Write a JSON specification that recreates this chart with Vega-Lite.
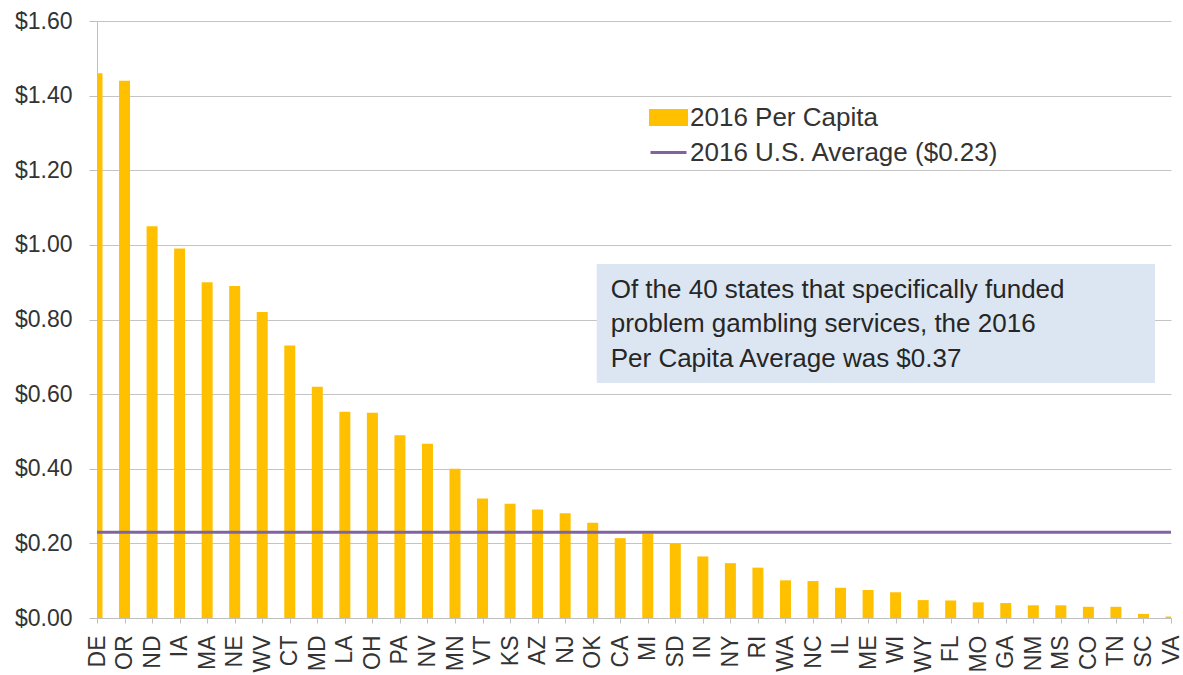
{
  "$schema": "https://vega.github.io/schema/vega-lite/v6.json",
  "width": 1074,
  "height": 597,
  "autosize": {"type": "none"},
  "padding": {"left": 97, "top": 21, "right": 12, "bottom": 57},
  "background": "white",
  "config": {
    "view": {"stroke": null},
    "font": "Liberation Sans",
    "axis": {"labelFont": "Liberation Sans", "labelColor": "#333333"}
  },
  "datasets": {
    "states": [
      {"state": "DE", "value": 1.46},
      {"state": "OR", "value": 1.44},
      {"state": "ND", "value": 1.05},
      {"state": "IA", "value": 0.99},
      {"state": "MA", "value": 0.90},
      {"state": "NE", "value": 0.89},
      {"state": "WV", "value": 0.82},
      {"state": "CT", "value": 0.73},
      {"state": "MD", "value": 0.62},
      {"state": "LA", "value": 0.553},
      {"state": "OH", "value": 0.55},
      {"state": "PA", "value": 0.49},
      {"state": "NV", "value": 0.467},
      {"state": "MN", "value": 0.40},
      {"state": "VT", "value": 0.32},
      {"state": "KS", "value": 0.306},
      {"state": "AZ", "value": 0.291},
      {"state": "NJ", "value": 0.281},
      {"state": "OK", "value": 0.255},
      {"state": "CA", "value": 0.214},
      {"state": "MI", "value": 0.226},
      {"state": "SD", "value": 0.20},
      {"state": "IN", "value": 0.165},
      {"state": "NY", "value": 0.147},
      {"state": "RI", "value": 0.135},
      {"state": "WA", "value": 0.101},
      {"state": "NC", "value": 0.099},
      {"state": "IL", "value": 0.081},
      {"state": "ME", "value": 0.075},
      {"state": "WI", "value": 0.069},
      {"state": "WY", "value": 0.048},
      {"state": "FL", "value": 0.047},
      {"state": "MO", "value": 0.042},
      {"state": "GA", "value": 0.040},
      {"state": "NM", "value": 0.034},
      {"state": "MS", "value": 0.034},
      {"state": "CO", "value": 0.030},
      {"state": "TN", "value": 0.030},
      {"state": "SC", "value": 0.011},
      {"state": "VA", "value": 0.004}
    ],
    "average": [
      {"series": "2016 U.S. Average ($0.23)", "avg": 0.23}
    ],
    "note": [
      {"text": ["Of the 40 states that specifically funded", "problem gambling services, the 2016", "Per Capita Average was $0.37"]}
    ]
  },
  "layer": [
    {
      "data": {"name": "states"},
      "mark": {"type": "bar", "size": 11, "clip": true},
      "encoding": {
        "x": {
          "field": "state",
          "type": "nominal",
          "sort": null,
          "scale": {"type": "point", "padding": 0},
          "axis": {
            "title": null,
            "labelAngle": 270,
            "labelFontSize": 23,
            "labelPadding": 12,
            "tickSize": 5,
            "tickColor": "#BFBFBF",
            "domainColor": "#BFBFBF",
            "labelOverlap": false,
            "labelFlush": false,
            "grid": false
          }
        },
        "y": {
          "field": "value",
          "type": "quantitative",
          "scale": {"domain": [0, 1.6], "nice": false},
          "axis": {
            "title": null,
            "values": [0, 0.2, 0.4, 0.6, 0.8, 1.0, 1.2, 1.4, 1.6],
            "format": "$.2f",
            "labelFontSize": 23,
            "labelPadding": 17,
            "tickSize": 8,
            "tickColor": "#BFBFBF",
            "domainColor": "#BFBFBF",
            "grid": true,
            "gridColor": "#C4C4C4",
            "gridWidth": 1.2
          }
        },
        "color": {
          "datum": "2016 Per Capita",
          "scale": {
            "domain": ["2016 Per Capita", "2016 U.S. Average ($0.23)"],
            "range": ["#FFC000", "#8064A2"]
          },
          "legend": {
            "title": null,
            "orient": "none",
            "legendX": 552,
            "legendY": 77,
            "padding": 0,
            "rowPadding": 2,
            "labelFontSize": 26,
            "labelColor": "#333333",
            "labelOffset": 2,
            "labelLimit": 500,
            "symbolSize": 1296,
            "encode": {
              "symbols": {
                "update": {
                  "shape": {"signal": "datum.value === '2016 Per Capita' ? 'M-1,-0.39H1V0.39H-1Z' : 'M-1,0H1'"},
                  "fill": {"signal": "datum.value === '2016 Per Capita' ? '#FFC000' : 'transparent'"},
                  "stroke": {"signal": "datum.value === '2016 Per Capita' ? 'transparent' : '#8064A2'"},
                  "strokeWidth": {"value": 3},
                  "opacity": {"value": 1},
                  "fillOpacity": {"value": 1}
                }
              }
            }
          }
        }
      }
    },
    {
      "data": {"name": "average"},
      "mark": {"type": "rule", "strokeWidth": 3},
      "encoding": {
        "y": {"field": "avg", "type": "quantitative"},
        "color": {"field": "series", "type": "nominal", "legend": {"title": null}}
      }
    },
    {
      "data": {"name": "note"},
      "mark": {"type": "rect", "color": "#DCE6F2", "xOffset": 4, "x2Offset": -16},
      "encoding": {
        "x": {"datum": "OK"},
        "x2": {"datum": "VA"},
        "y": {"datum": 0.949},
        "y2": {"datum": 0.63}
      }
    },
    {
      "data": {"name": "note"},
      "mark": {"type": "text", "align": "left", "baseline": "top", "fontSize": 26, "lineHeight": 34.5, "color": "#262626", "xOffset": 18, "font": "Liberation Sans"},
      "encoding": {
        "x": {"datum": "OK"},
        "y": {"datum": 0.914},
        "text": {"field": "text"}
      }
    }
  ]
}
